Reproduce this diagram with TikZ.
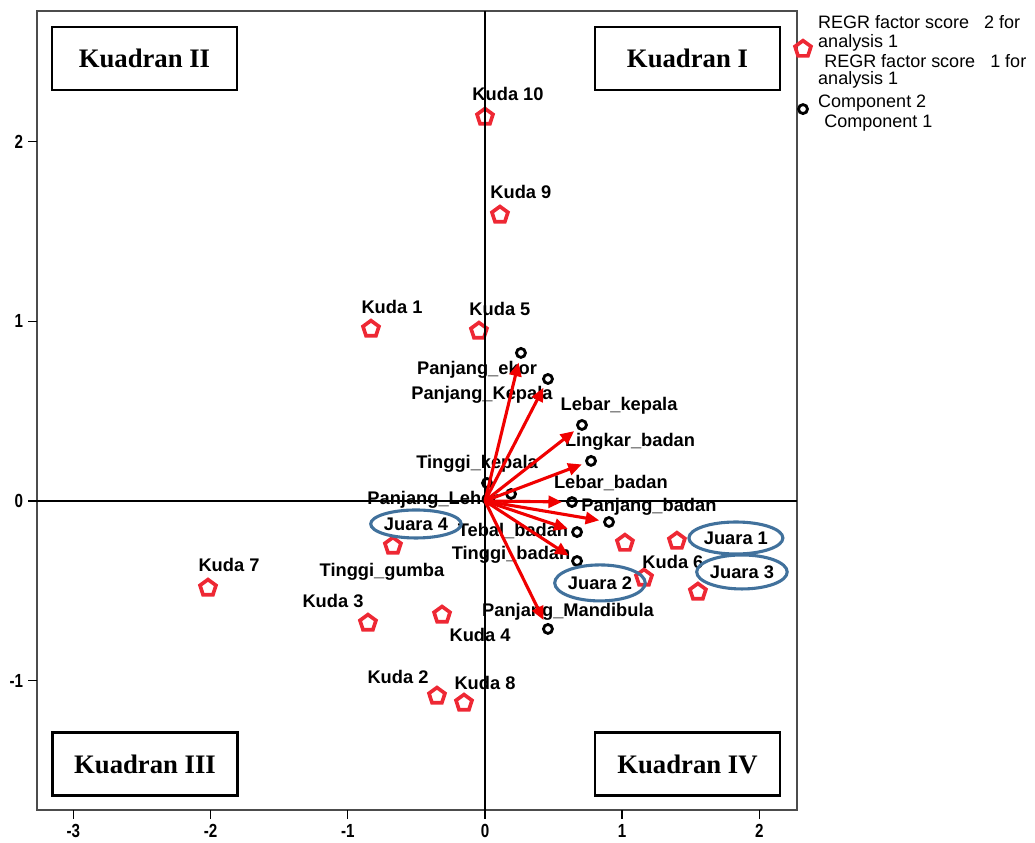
\documentclass[tikz,border=0pt]{standalone}
\usepackage{fontspec}
\setmainfont{Liberation Sans}
\newfontfamily\kuadranfont{Liberation Serif}
\newfontfamily\tickfont[FakeStretch=0.8]{Liberation Sans}
\usetikzlibrary{shapes.geometric,arrows.meta}
\definecolor{skorred}{RGB}{238,40,52}
\definecolor{vektorred}{RGB}{240,0,0}
\definecolor{juarablue}{RGB}{65,113,156}
\tikzset{
  kuda/.style={regular polygon,regular polygon sides=5,draw=skorred,line width=2.6pt,minimum size=0.42cm,inner sep=0pt},
  komp/.style={circle,draw=black,line width=2pt,minimum size=0.225cm,inner sep=0pt},
  lbl/.style={font=\fontsize{13}{15}\selectfont\bfseries,inner sep=0pt},
  juara/.style={ellipse,draw=juarablue,line width=2.2pt,inner sep=0pt,font=\fontsize{13}{15}\selectfont\bfseries},
  kuadran/.style={draw,line width=1.6pt,fill=white,minimum width=4.625cm,minimum height=1.575cm,font=\kuadranfont\fontsize{19}{21}\selectfont\bfseries},
  vektor/.style={draw=vektorred,line width=2.2pt,shorten >=0.1cm,-{Triangle[length=0.34cm,width=0.3cm]}},
  legenda/.style={font=\fontsize{12.8}{15}\selectfont,inner sep=0pt,anchor=base west},
  tick/.style={font=\tickfont\fontsize{13.5}{15}\selectfont\bfseries,inner sep=1pt}
}
\begin{document}
\begin{tikzpicture}[x=3.43cm,y=4.4925cm]
            \def\xl{-3.265}
            \def\xr{2.274}
            \def\yb{-1.720}
            \def\yt{2.727}
            \useasboundingbox (-3.535,-1.903) rectangle (4.009,2.788);
            \draw[line width=1.3pt,draw=black!70] (\xl,\yb) rectangle (\xr,\yt);
            \foreach \t [count=\i] in {-3,...,2}
                \draw[line width=1pt] (\t,\yb) -- (\t,\yb-0.05) node[tick,below=2pt] (tx\i) {\t};
            \foreach \t [count=\i] in {-1,...,2}
                \draw[line width=1pt] (\xl,\t) -- (\xl-0.066,\t) node[tick,left=2pt] (ty\i) {\t};
            \node[kuadran] (kII) at (-2.482,2.463) {Kuadran II};
            \node[kuadran] (kI) at (1.476,2.463) {Kuadran I};
            \node[kuadran] (kIII) at (-2.478,-1.464) {Kuadran III};
            \node[kuadran] (kIV) at (1.476,-1.464) {Kuadran IV};
            \node[kuda] (k10) at (0,2.137) {};
            \node[kuda] (k9) at (0.109,1.592) {};
            \node[kuda] (k1) at (-0.831,0.957) {};
            \node[kuda] (k5) at (-0.044,0.946) {};
            \node[kuda] (k7) at (-2.019,-0.484) {};
            \node[kuda] (k3) at (-0.853,-0.679) {};
            \node[kuda] (k4) at (-0.313,-0.634) {};
            \node[kuda] (k2) at (-0.350,-1.085) {};
            \node[kuda] (k8) at (-0.153,-1.124) {};
            \node[kuda] (k6) at (1.159,-0.428) {};
            \node[kuda] (j4) at (-0.671,-0.250) {};
            \node[kuda] (j2) at (1.020,-0.234) {};
            \node[kuda] (j1) at (1.399,-0.223) {};
            \node[kuda] (j3) at (1.552,-0.506) {};
            \node[lbl] (lk10) at (0.168,2.265) {Kuda 10};
            \node[lbl] (lk9) at (0.262,1.720) {Kuda 9};
            \node[lbl] (lk1) at (-0.678,1.080) {Kuda 1};
            \node[lbl] (lk5) at (0.109,1.068) {Kuda 5};
            \node[lbl] (lk7) at (-1.866,-0.356) {Kuda 7};
            \node[lbl] (lk3) at (-1.108,-0.556) {Kuda 3};
            \node[lbl] (lk4) at (-0.036,-0.746) {Kuda 4};
            \node[lbl] (lk2) at (-0.634,-0.979) {Kuda 2};
            \node[lbl] (lk8) at (0,-1.013) {Kuda 8};
            \node[lbl] (lk6) at (1.370,-0.339) {Kuda 6};
            \node[lbl] (lekor) at (-0.058,0.729) {Panjang\_ekor};
            \node[lbl] (lpkep) at (-0.022,0.590) {Panjang\_Kepala};
            \node[lbl] (llkep) at (0.977,0.529) {Lebar\_kepala};
            \node[lbl] (lling) at (1.057,0.328) {Lingkar\_badan};
            \node[lbl] (ltkep) at (-0.058,0.206) {Tinggi\_kepala};
            \node[lbl] (lleh) at (-0.379,0.006) {Panjang\_Leher};
            \node[lbl] (llbad) at (0.918,0.100) {Lebar\_badan};
            \node[lbl] (lpbad) at (1.195,-0.033) {Panjang\_badan};
            \node[lbl] (ltebal) at (0.204,-0.167) {Tebal\_badan};
            \node[lbl] (ltbad) at (0.190,-0.300) {Tinggi\_badan};
            \node[lbl] (lmand) at (0.605,-0.618) {Panjang\_Mandibula};
            \node[lbl] (lgumba) at (-0.751,-0.395) {Tinggi\_gumba};
            \draw[line width=1pt] (\xl,0) -- (\xr,0);
            \draw[line width=1pt] (0,\yb) -- (0,\yt);
            \node[komp] (ekor) at (0.262,0.824) {};
            \node[komp] (pkep) at (0.459,0.679) {};
            \node[komp] (lkep) at (0.707,0.423) {};
            \node[komp] (ling) at (0.773,0.223) {};
            \node[komp] (tkep) at (0.015,0.100) {};
            \node[komp] (leh) at (0.190,0.039) {};
            \node[komp] (lbad) at (0.634,-0.006) {};
            \node[komp] (pbad) at (0.904,-0.117) {};
            \node[komp] (tebal) at (0.671,-0.173) {};
            \node[komp] (tbad) at (0.671,-0.334) {};
            \node[komp] (mand) at (0.459,-0.712) {};
            \coordinate (o) at (0,0);
            \foreach \v in {ekor,pkep,lkep,ling,lbad,pbad,tebal,tbad,mand}
                \draw[vektor] (o) -- (\v);
            \node[juara,minimum width=2.05cm,minimum height=0.7cm] (ej4) at (-0.503,-0.128) {Juara 4};
            \node[juara,minimum width=2.35cm,minimum height=0.8cm] (ej1) at (1.829,-0.206) {Juara 1};
            \node[juara,minimum width=2.15cm,minimum height=0.85cm] (ej3) at (1.873,-0.395) {Juara 3};
            \node[juara,minimum width=2.1cm,minimum height=0.9cm] (ej2) at (0.838,-0.456) {Juara 2};
            \node[kuda] (lgk) at (2.318,2.515) {};
            \node[komp] (lgc) at (2.318,2.181) {};
            \node[legenda] (lg1) at (2.427,2.632) {REGR factor score\ \ \ 2 for};
            \node[legenda] (lg2) at (2.427,2.526) {analysis 1};
            \node[legenda] (lg3) at (2.471,2.415) {REGR factor score\ \ \ 1 for};
            \node[legenda] (lg4) at (2.427,2.315) {analysis 1};
            \node[legenda] (lg5) at (2.427,2.190) {Component 2};
            \node[legenda] (lg6) at (2.471,2.081) {Component 1};
        \end{tikzpicture}
\end{document}
